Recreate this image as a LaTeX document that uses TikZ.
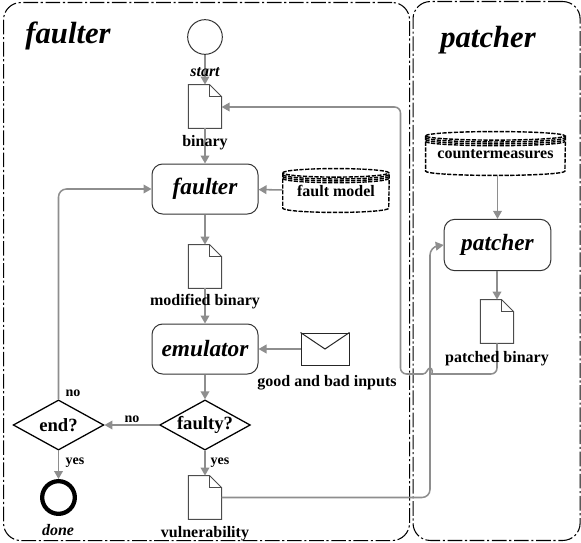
\documentclass[tikz,border=0pt]{standalone}
\usepackage{fontspec}
\setmainfont{Liberation Serif}
\usetikzlibrary{arrows.meta,shapes.geometric}
\newcommand{\fs}[1]{\fontsize{#1pt}{#1pt}\selectfont}
\newcommand{\lowered}[2]{\raisebox{-#1pt}{#2}}
\newcommand{\docshape}[3]{%
  \node[docbox] (#1) at (#2,#3) {};
  \draw[docline] (#1.north west) -- ([xshift=-9pt]#1.north east) -- ([yshift=-9pt]#1.north east) -- (#1.south east) -- (#1.south west) -- cycle;
  \draw[docline] ([xshift=-9pt]#1.north east) -- ([xshift=-9pt,yshift=-9pt]#1.north east) -- ([yshift=-9pt]#1.north east);
}
\newcommand{\cylshape}[5]{% name, cx, cy, width(pt), text
  \node[cylbox,minimum width=#4pt] (#1) at (#2,#3) {};
  \draw[cylline] ([yshift=-3.2pt]#1.north west) -- ([yshift=3.2pt]#1.south west) arc[start angle=180,end angle=360,x radius=#4pt/2,y radius=3.2pt] -- ([yshift=-3.2pt]#1.north east);
  \draw[cylline] ([yshift=-3.2pt]#1.north west) arc[start angle=180,end angle=-180,x radius=#4pt/2,y radius=3.2pt];
  \foreach \dd in {4.6,6.0,7.4}{
    \draw[cylline] ([yshift=-\dd pt]#1.north west) arc[start angle=180,end angle=360,x radius=#4pt/2,y radius=3.2pt];
  }
  \node[lab] at ([yshift=-0.7pt]#1.center) {\fs{12}#5};
}
\tikzset{
  x=0.75pt,y=-0.75pt,
  panel/.style={draw=black,line width=0.8pt,rounded corners=13pt,dash pattern=on 11pt off 2pt on 1.6pt off 2pt,inner sep=0pt,anchor=north west},
  conn/.style={draw=arrowgray,line width=1.15pt,-{Triangle[length=6pt,width=6.5pt,fill=arrowgray]}},
  docbox/.style={draw=none,inner sep=0pt,minimum width=24.5pt,minimum height=32.5pt},
  docline/.style={draw=black!70,line width=0.75pt,line join=miter},
  cylbox/.style={draw=none,inner sep=0pt,minimum height=32.5pt},
  cylline/.style={draw=black,line width=1.05pt,dash pattern=on 3.2pt off 1.1pt},
  proc/.style={draw=black!80,line width=0.75pt,rounded corners=8pt,inner sep=0pt,minimum width=79.5pt,minimum height=37.5pt,font=\bfseries\itshape\fs{17.5}},
  dec/.style={draw=black,line width=0.95pt,diamond,aspect=1.8,inner sep=0pt,minimum width=68pt,minimum height=37.6pt,font=\bfseries\fs{14}},
  lab/.style={inner sep=0pt,font=\bfseries\fs{12}},
  ilab/.style={inner sep=0pt,font=\bfseries\itshape\fs{12}},
  small/.style={inner sep=0pt,font=\bfseries\fs{10.5}},
  title/.style={inner sep=0pt,font=\bfseries\itshape\fs{23}},
}
\definecolor{arrowgray}{HTML}{8E8E8E}
\begin{document}
\begin{tikzpicture}
\path[use as bounding box] (0,0) rectangle (581,542);
\node[panel,minimum width=304.5pt,minimum height=403.5pt] (lp) at (3,2) {};
\node[panel,minimum width=125.3pt,minimum height=404.2pt] (rp) at (412.5,1) {};
\node[title] (t1) at (68,35.5) {faulter};
\node[title] (t2) at (488,40) {patcher};

\node[circle,draw=black!80,line width=0.75pt,minimum size=26pt,inner sep=0pt] (start) at (205,37) {};
\docshape{bin}{205}{106.5}
\node[proc] (fa) at (205,189) {\lowered{1.2}{faulter}};
\cylshape{fm}{336}{190.5}{79.5}{fault model}
\docshape{mod}{205}{266.5}
\node[proc] (em) at (205,349) {\lowered{1.2}{emulator}};
\node[draw=black!85,line width=0.75pt,inner sep=0pt,minimum width=36pt,minimum height=24pt] (env) at (325,349) {};
\draw[black!85,line width=0.75pt] (env.north west) -- (env.center) -- (env.north east);
\node[dec] (fq) at (205,425) {\lowered{0.7}{faulty?}};
\node[dec] (en) at (58.5,425) {\lowered{0.7}{end?}};
\node[circle,draw=black,line width=3.2pt,minimum size=24.5pt,inner sep=0pt] (done) at (58.5,497.5) {};
\docshape{vul}{205}{497.5}
\cylshape{cm}{495.5}{153.5}{104.5}{countermeasures}
\node[proc,minimum width=80pt,minimum height=38.5pt] (pa) at (497.5,245) {\lowered{1.2}{patcher}};
\docshape{pb}{497}{321.5}

\coordinate (c1) at (430,497.5);
\coordinate (c2) at (430,247);
\coordinate (c3) at (58.5,189);
\coordinate (r1) at (497,374);
\coordinate (j1) at (437,374);
\coordinate (j2) at (423,374);
\coordinate (jt) at (430,368);
\coordinate (r2) at (400.5,374);
\coordinate (r3) at (400.5,107);

\draw[conn] (start) -- (bin);
\draw[conn] (bin) -- (fa);
\draw[conn] (fa) -- (mod);
\draw[conn] (mod) -- (em);
\draw[conn] (em) -- (fq);
\draw[conn] (fq) -- (vul);
\draw[conn] (fq) -- (en);
\draw[conn] (en) -- (done);
\draw[conn] (fm) -- (fa);
\draw[conn] (env) -- (em);
\draw[conn] (cm.south -| pa.north) -- (pa);
\draw[conn] (pa.south -| pb.north) -- (pb);
\draw[conn,rounded corners=6pt] (en) -- (c3) -- (fa);
\draw[conn,rounded corners=6pt] (vul.east) -- (c1) -- (c2) -- (pa.west);
\draw[conn,rounded corners=4.5pt] (pb.south) -- (r1) -- (j1) [sharp corners] .. controls ([xshift=-3pt]j1) and ([xshift=2pt]jt) .. (jt) .. controls ([xshift=-2pt]jt) and ([xshift=3pt]j2) .. (j2) [rounded corners=4.5pt] -- (r2) -- (r3) -- (bin.east |- r3);

\node[ilab] (l1) at (205,72) {start};
\node[lab] (l2) at (205,143) {binary};
\node[lab] (l3) at (205,302) {modified binary};
\node[lab] (l4) at (327,383) {good and bad inputs};
\node[lab] (l5) at (205,534) {vulnerability};
\node[lab] (l6) at (497,359) {patched binary};
\node[ilab] (l7) at (58,530) {done};
\node[small] (n1) at (73,393) {no};
\node[small] (n2) at (132,419) {no};
\node[small] (y1) at (75,463) {yes};
\node[small] (y2) at (220,463) {yes};
\end{tikzpicture}
\end{document}
